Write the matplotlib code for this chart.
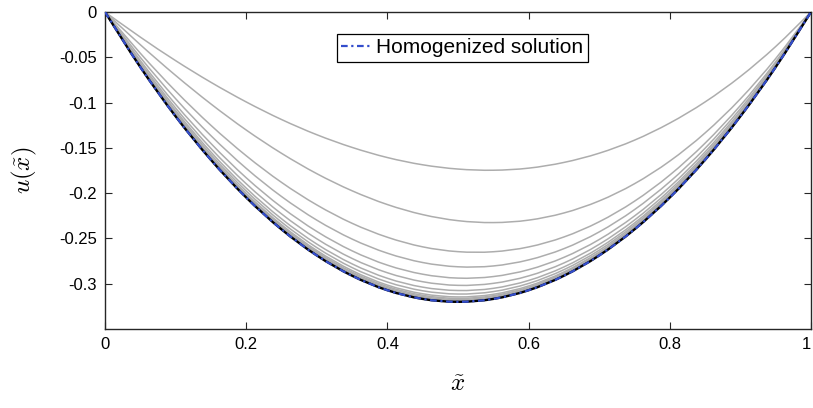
import matplotlib
matplotlib.use("Agg")
import matplotlib.pyplot as plt
from matplotlib.path import Path
from matplotlib.patches import PathPatch
from matplotlib.lines import Line2D

plt.rcParams['font.family'] = ['Liberation Sans', 'DejaVu Sans']
plt.rcParams['mathtext.fontset'] = 'cm'
plt.rcParams['axes.unicode_minus'] = False

x_grid = [0.00, 0.05, 0.10, 0.15, 0.20, 0.25, 0.30, 0.35, 0.40, 0.45, 0.50,
          0.55, 0.60, 0.65, 0.70, 0.75, 0.80, 0.85, 0.90, 0.95, 1.00]

# homogenized solution
u_hom = [0, -0.0608, -0.1152, -0.1632, -0.2048, -0.2400, -0.2688, -0.2912, -0.3072, -0.3168, -0.3200,
         -0.3168, -0.3072, -0.2912, -0.2688, -0.2400, -0.2048, -0.1632, -0.1152, -0.0608, 0]

# gray family of solutions (depths at interior points x_grid[1:-1])
u_gray_interior = [
    [.0277, .0537, .0776, .0993, .1187, .1355, .1495, .1607, .1687, .1734, .1747, .1724, .1661, .1559, .1415, .1226, .0993, .0712, .0381],
    [.0361, .0700, .1015, .1303, .1560, .1785, .1974, .2126, .2237, .2304, .2325, .2298, .2219, .2086, .1896, .1646, .1335, .0959, .0514],
    [.0455, .0873, .1251, .1587, .1881, .2130, .2333, .2487, .2593, .2646, .2647, .2594, .2484, .2316, .2089, .1800, .1448, .1032, .0550],
    [.0501, .0957, .1365, .1726, .2037, .2298, .2507, .2663, .2766, .2813, .2804, .2737, .2613, .2428, .2182, .1874, .1504, .1068, .0568],
    [.0536, .1020, .1451, .1830, .2154, .2423, .2637, .2795, .2895, .2938, .2921, .2845, .2709, .2512, .2252, .1930, .1545, .1095, .0581],
    [.0558, .1060, .1506, .1896, .2229, .2504, .2721, .2879, .2978, .3018, .2996, .2914, .2771, .2565, .2297, .1966, .1572, .1113, .0589],
    [.0574, .1089, .1546, .1944, .2283, .2562, .2781, .2940, .3038, .3075, .3051, .2964, .2815, .2604, .2330, .1992, .1591, .1125, .0595],
    [.0584, .1108, .1573, .1976, .2319, .2601, .2822, .2981, .3078, .3114, .3087, .2997, .2845, .2630, .2351, .2009, .1603, .1133, .0599],
    [.0593, .1125, .1595, .2003, .2349, .2633, .2855, .3015, .3111, .3146, .3117, .3025, .2870, .2651, .2369, .2024, .1614, .1140, .0602],
    [.0597, .1133, .1606, .2016, .2364, .2649, .2872, .3031, .3128, .3162, .3132, .3039, .2882, .2662, .2378, .2031, .1619, .1144, .0604],
    [.0601, .1139, .1614, .2027, .2376, .2662, .2885, .3045, .3141, .3174, .3144, .3050, .2892, .2671, .2386, .2037, .1624, .1146, .0605],
    [.0604, .1144, .1621, .2035, .2385, .2672, .2895, .3055, .3151, .3184, .3153, .3058, .2900, .2677, .2391, .2041, .1627, .1149, .0606],
    [.0605, .1147, .1625, .2040, .2391, .2678, .2902, .3062, .3158, .3190, .3159, .3064, .2905, .2682, .2395, .2044, .1629, .1150, .0607],
]

x_ticks = [0, 0.2, 0.4, 0.6, 0.8, 1]
x_tick_labels = ['0', '0.2', '0.4', '0.6', '0.8', '1']
y_ticks = [0, -0.05, -0.1, -0.15, -0.2, -0.25, -0.3]
y_tick_labels = ['0', '-0.05', '-0.1', '-0.15', '-0.2', '-0.25', '-0.3']


def smooth_path(xs, ys):
    """Catmull-Rom style cubic Bezier path through the read points."""
    n = len(xs)
    verts = [(xs[0], ys[0])]
    codes = [Path.MOVETO]
    for i in range(n - 1):
        i0 = max(i - 1, 0)
        i3 = min(i + 2, n - 1)
        c1 = (xs[i] + (xs[i + 1] - xs[i0]) / 6.0, ys[i] + (ys[i + 1] - ys[i0]) / 6.0)
        c2 = (xs[i + 1] - (xs[i3] - xs[i]) / 6.0, ys[i + 1] - (ys[i3] - ys[i]) / 6.0)
        verts += [c1, c2, (xs[i + 1], ys[i + 1])]
        codes += [Path.CURVE4, Path.CURVE4, Path.CURVE4]
    return Path(verts, codes)


fig = plt.figure(figsize=(8.13, 4.08), dpi=100)
ax = fig.add_axes([105/813, 1 - 329/408, 706/813, 317/408])

gray = (0.68, 0.68, 0.68)
blue = (0.2, 0.3, 0.8)

for vals in u_gray_interior:
    y = [0] + [-v for v in vals] + [0]
    ax.add_patch(PathPatch(smooth_path(x_grid, y), fill=False, edgecolor=gray,
                           lw=1.1, zorder=2))

ax.add_patch(PathPatch(smooth_path(x_grid, u_hom), fill=False, edgecolor='black',
                       lw=1.7, zorder=3))
hom_style = (0, (3, 1.6, 1, 1.6))
ax.add_patch(PathPatch(smooth_path(x_grid, u_hom), fill=False, edgecolor=blue,
                       lw=1.6, ls=hom_style, zorder=4))

ax.set_xlim(0, 1)
ax.set_ylim(-0.35, 0)
ax.set_xticks(x_ticks)
ax.set_xticklabels(x_tick_labels)
ax.set_yticks(y_ticks)
ax.set_yticklabels(y_tick_labels)
ax.tick_params(direction='in', top=True, right=True, length=5, width=0.8,
               labelsize=12, colors=(0.15, 0.15, 0.15), labelcolor='black', pad=6)
ax.get_xticklabels()[-1].set_horizontalalignment('right')
for s in ax.spines.values():
    s.set_color((0.15, 0.15, 0.15))
    s.set_linewidth(1.0)

ax.set_xlabel(r'$\tilde{x}$', fontsize=18, labelpad=14)
ax.set_ylabel(r'$u(\tilde{x})$', fontsize=18, labelpad=14)

proxy = Line2D([], [], color=blue, lw=1.6, ls=hom_style)
leg = ax.legend([proxy], ['Homogenized solution'], loc='upper center',
                bbox_to_anchor=(0.506, 0.932), fontsize=15,
                frameon=True, fancybox=False, framealpha=1, edgecolor='black',
                handlelength=1.4, handletextpad=0.25, borderpad=0.22,
                borderaxespad=0)
leg.get_frame().set_linewidth(0.9)

fig.savefig('out.png', dpi=100)
